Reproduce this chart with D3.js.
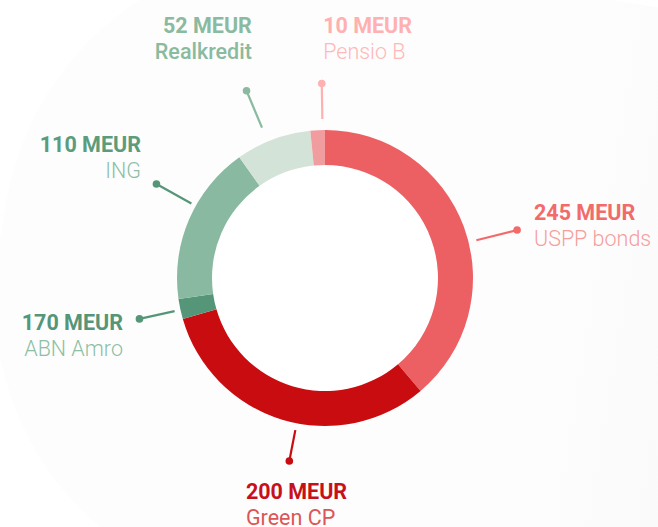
<!DOCTYPE html>
<html>
<head>
<meta charset="utf-8">
<script src="https://cdn.jsdelivr.net/npm/d3@7"></script>
<style>
  html, body { margin: 0; padding: 0; background: #ffffff; }
  svg { display: block; }
  text { font-family: Roboto, "Noto Sans", sans-serif; }
</style>
</head>
<body>
<svg id="chart" width="658" height="527"></svg>
<script>
// ---- data ----
const names      = ["USPP bonds", "Green CP", "ABN Amro", "ING", "Realkredit", "Pensio B"];
const amounts    = [245, 200, 170, 110, 52, 10];        // labelled amounts, MEUR
const sliceSizes = [245, 200, 14, 110, 52, 10];          // slice sizes as drawn in the ring
const unit = "MEUR";

// ---- styles ----
const sliceColor = ["#ec6064", "#c90c10", "#559678", "#89b9a0", "#d4e3d8", "#f19d9f"];
const valueColor = ["#f26b6b", "#c8101a", "#55957a", "#5a9c7c", "#8aba9f", "#ffb0b0"];
const nameColor  = ["#f79e9c", "#dc5656", "#8dbfa5", "#8dbfa5", "#8aba9f", "#ffb8b8"];
const lineColor  = ["#f26b6b", "#c90c10", "#559678", "#559678", "#8aba9f", "#ffb0b0"];
const nameWeight = [300, 400, 300, 300, 500, 300];

// leader / label layout (designer placement relative to the leader dot)
const layout = [
  { nudge:  6.1, r0: 156, r1: 198,   anchor: "start", dx:  16.9, dy: -10.1 },
  { nudge: -5.8, r0: 155, r1: 186.5, anchor: "start", dx: -43.4, dy:  38   },
  { nudge: -0.3, r0: 154, r1: 190,   anchor: "end",   dx: -16.5, dy:  11.1 },
  { nudge:  5.9, r0: 153, r1: 193,   anchor: "end",   dx: -15.5, dy: -31.8 },
  { nudge: -2.2, r0: 163, r1: 203,   anchor: "end",   dx:   5.3, dy: -57.7 },
  { nudge:  1.9, r0: 159, r1: 194.5, anchor: "start", dx:   1.4, dy: -50.5 }
];

const W = 658, H = 527;
const cx = 325, cy = 278;
const rOuter = 148, rInner = 113;
const lineGap = 26;
const fontSize = 21.5;

const svg = d3.select("#chart");
const defs = svg.append("defs");
const grad = defs.append("linearGradient")
  .attr("id", "bg").attr("gradientUnits", "userSpaceOnUse")
  .attr("x1", 0).attr("y1", 0).attr("x2", W).attr("y2", 0);
grad.append("stop").attr("offset", "0%").attr("stop-color", "#fdfdfd");
grad.append("stop").attr("offset", "100%").attr("stop-color", "#eeeeee");

svg.append("rect").attr("width", W).attr("height", H).attr("fill", "#ffffff");
svg.append("rect")
  .attr("x", -565).attr("y", 0).attr("width", 1165).attr("height", 647)
  .attr("rx", 300).attr("ry", 300)
  .attr("transform", "translate(613,0) rotate(9.5)")
  .attr("fill", "url(#bg)");

const data = names.map((n, i) => ({ name: n, amount: amounts[i], size: sliceSizes[i], i }));

const pie = d3.pie().value(d => d.size).sort(null);
const arcs = pie(data);
const arc = d3.arc().innerRadius(rInner).outerRadius(rOuter);

const g = svg.append("g").attr("transform", `translate(${cx},${cy})`);
g.append("circle").attr("r", rInner).attr("fill", "#ffffff");
g.selectAll("path.slice").data(arcs).join("path")
  .attr("class", "slice")
  .attr("d", arc)
  .attr("fill", d => sliceColor[d.data.i]);

function polar(angleRad, r) {
  return [Math.sin(angleRad) * r, -Math.cos(angleRad) * r];
}

arcs.forEach(d => {
  const i = d.data.i;
  const L = layout[i];
  const a = (d.startAngle + d.endAngle) / 2 + L.nudge * Math.PI / 180;
  const p0 = polar(a, L.r0);
  const p1 = polar(a, L.r1);
  g.append("line")
    .attr("x1", p0[0]).attr("y1", p0[1]).attr("x2", p1[0]).attr("y2", p1[1])
    .attr("stroke", lineColor[i]).attr("stroke-width", 2.2);
  g.append("circle").attr("cx", p1[0]).attr("cy", p1[1]).attr("r", 3.8)
    .attr("fill", lineColor[i]);

  const tx = p1[0] + L.dx, ty = p1[1] + L.dy;
  g.append("text")
    .attr("x", tx).attr("y", ty)
    .attr("text-anchor", L.anchor)
    .attr("font-size", fontSize).attr("font-weight", 700)
    .attr("fill", valueColor[i])
    .text(`${d.data.amount} ${unit}`);
  g.append("text")
    .attr("x", tx).attr("y", ty + lineGap)
    .attr("text-anchor", L.anchor)
    .attr("font-size", fontSize).attr("font-weight", nameWeight[i])
    .attr("fill", nameColor[i])
    .text(d.data.name);
});
</script>
</body>
</html>
